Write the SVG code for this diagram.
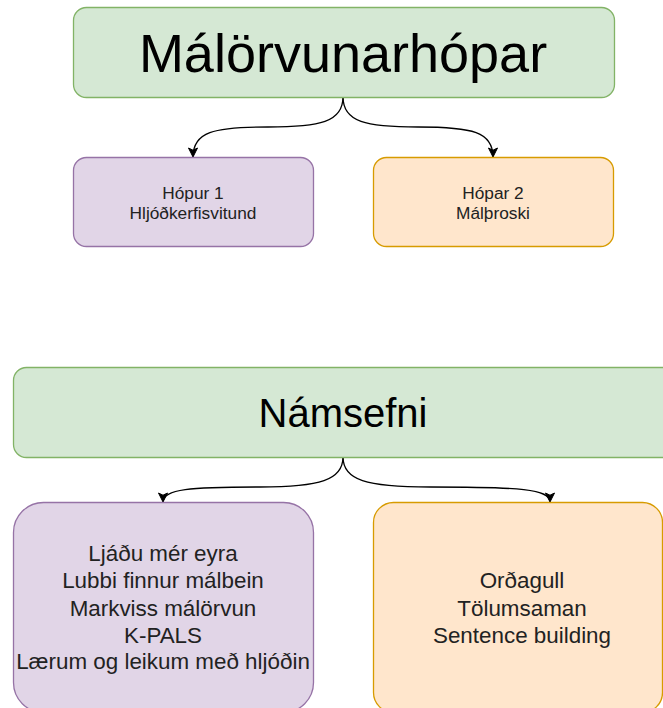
<svg xmlns="http://www.w3.org/2000/svg" width="663" height="708" viewBox="0 0 663 708">
  <style>
    .green { fill: #d5e8d4; stroke: #82b366; stroke-width: 1.3; }
    .purple { fill: #e1d5e7; stroke: #9673a6; stroke-width: 1.3; }
    .orange { fill: #ffe6cc; stroke: #d79b00; stroke-width: 1.3; }
    .edge { fill: none; stroke: #000000; stroke-width: 1.3; marker-end: url(#arrow); }
    text { font-family: "Liberation Sans", Arial, Helvetica, sans-serif; text-anchor: middle; }
    .title { font-size: 54px; fill: #000000; }
    .sub { font-size: 40px; fill: #000000; }
    .small { font-size: 17.3px; fill: #222222; }
    .mid { font-size: 22.4px; fill: #222222; }
  </style>
  <defs>
    <marker id="arrow" viewBox="-1 -6 12 12" refX="9" refY="0" markerWidth="12" markerHeight="12" markerUnits="userSpaceOnUse" orient="auto">
      <path d="M0,-4.5 L9,0 L0,4.5 L2.2,0 Z" fill="#000000" stroke="#000000" stroke-width="1"/>
    </marker>
  </defs>
  <rect width="663" height="708" fill="#ffffff"/>

  <g id="connectors">
    <path class="edge" d="M343,97 C343,122 320,127 268,127 C213,127 193,132 193,157"/>
    <path class="edge" d="M343,97 C343,122 366,127 418,127 C473,127 493,132 493,157"/>
    <path class="edge" d="M343,457 C343,480 320,487 260,487 C190,487 163,489 163,502"/>
    <path class="edge" d="M343,457 C343,480 366,487 430,487 C520,487 550,489 550,502"/>
  </g>

  <g id="node-malorvunarhopar">
    <rect class="green" x="73.5" y="7.5" width="541" height="90" rx="13" ry="13"/>
    <text class="title" x="343" y="72">Málörvunarhópar</text>
  </g>

  <g id="node-hopur1">
    <rect class="purple" x="73.5" y="157.5" width="240" height="89" rx="13" ry="13"/>
    <text class="small" x="193" y="199">Hópur 1</text>
    <text class="small" x="193" y="219">Hljóðkerfisvitund</text>
  </g>

  <g id="node-hopar2">
    <rect class="orange" x="373.5" y="157.5" width="240" height="89" rx="13" ry="13"/>
    <text class="small" x="493" y="199">Hópar 2</text>
    <text class="small" x="493" y="219">Málþroski</text>
  </g>

  <g id="node-namsefni">
    <rect class="green" x="13.5" y="367.5" width="670" height="90" rx="13" ry="13"/>
    <text class="sub" x="343" y="427">Námsefni</text>
  </g>

  <g id="node-namsefni-hopur1">
    <rect class="purple" x="13.5" y="502.5" width="300" height="210" rx="30" ry="30"/>
    <text class="mid" x="163" y="561">Ljáðu mér eyra</text>
    <text class="mid" x="163" y="588">Lubbi finnur málbein</text>
    <text class="mid" x="163" y="616">Markviss málörvun</text>
    <text class="mid" x="163" y="643">K-PALS</text>
    <text class="mid" x="163" y="669">Lærum og leikum með hljóðin</text>
  </g>

  <g id="node-namsefni-hopar2">
    <rect class="orange" x="373.5" y="502.5" width="289" height="210" rx="20" ry="20"/>
    <text class="mid" x="522" y="588">Orðagull</text>
    <text class="mid" x="522" y="616">Tölumsaman</text>
    <text class="mid" x="522" y="643">Sentence building</text>
  </g>
</svg>
